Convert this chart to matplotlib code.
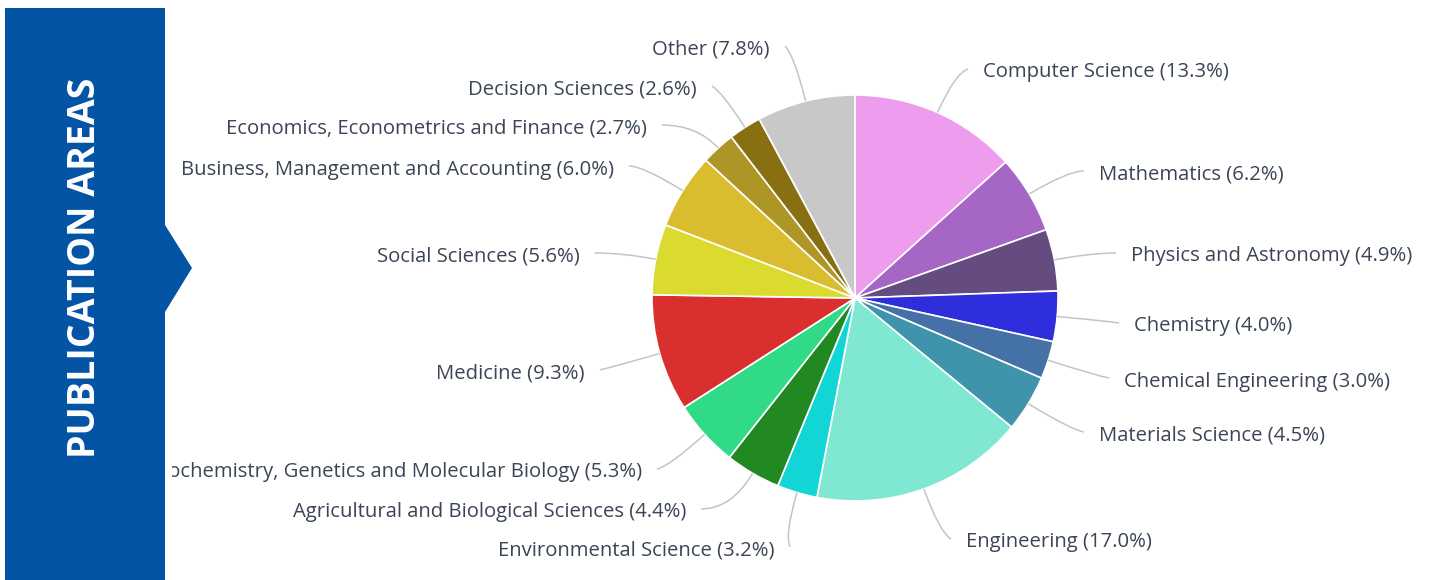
import numpy as np
import matplotlib
matplotlib.use("Agg")
import matplotlib.pyplot as plt
from matplotlib.patches import Polygon
from matplotlib.path import Path
from matplotlib.patches import PathPatch
from matplotlib.transforms import Bbox, TransformedBbox

# --- data ---
areas = ["Computer Science", "Mathematics", "Physics and Astronomy", "Chemistry",
         "Chemical Engineering", "Materials Science", "Engineering",
         "Environmental Science", "Agricultural and Biological Sciences",
         "Biochemistry, Genetics and Molecular Biology", "Medicine",
         "Social Sciences", "Business, Management and Accounting",
         "Economics, Econometrics and Finance", "Decision Sciences", "Other"]
shares = [13.3, 6.2, 4.9, 4.0, 3.0, 4.5, 17.0, 3.2, 4.4, 5.3, 9.3, 5.6, 6.0, 2.7, 2.6, 7.8]
colors = ["#EE9CEE", "#A566C6", "#654C80", "#2F2EDC", "#4472A6", "#3F93AB",
          "#80E8D2", "#12D6D6", "#228822", "#31DA86", "#DA2F2F", "#DADA2F",
          "#DABD2F", "#AD9526", "#887012", "#C8C8C8"]

# label anchor (pixels, y down) and side: +1 text to the right, -1 to the left
label_pos = [(983, 71, 1), (1099, 173, 1), (1131, 255, 1), (1134, 325, 1),
             (1124, 380, 1), (1099, 434, 1), (966, 541, 1), (775, 549, -1),
             (686, 511, -1), (642, 471, -1), (585, 372, -1), (580, 255, -1),
             (614, 168, -1), (647, 127, -1), (697, 88, -1), (770, 48, -1)]

W, H = 1434, 580
cx, cy, R = 855, 298, 203
txt_color = "#3b4556"
line_color = "#c4c4c4"

fig = plt.figure(figsize=(W / 100, H / 100), dpi=100)
ax = fig.add_axes([0, 0, 1, 1])

def Y(y):
    return H - y

ax.pie(shares, colors=colors, startangle=90, counterclock=False,
       center=(cx, Y(cy)), radius=R,
       wedgeprops=dict(edgecolor="white", linewidth=1.2))
ax.set_xlim(0, W)
ax.set_ylim(0, H)
ax.set_aspect("equal")
ax.axis("off")

# labels and curved connectors
cum = np.cumsum([0] + shares)
total = sum(shares)
clip = TransformedBbox(Bbox([[172, 0], [W, H]]), ax.transData)
for i, name in enumerate(areas):
    mid = (cum[i] + shares[i] / 2) / total * 2 * np.pi
    dx, dy = np.sin(mid), -np.cos(mid)  # pixel direction, y down
    x0, y0 = cx + R * dx, cy + R * dy
    lx, ly, side = label_pos[i]
    ex, ey = lx - 15 * side, ly - 2
    # control point: where the radial line meets the label's horizontal
    if abs(dy) > 0.05:
        t = (ey - y0) / dy
    else:
        t = 1e9
    dist = np.hypot(ex - x0, ey - y0)
    t = max(min(t, 0.8 * dist), 5)
    px, py = x0 + t * dx, y0 + t * dy
    path = Path([(x0, Y(y0)), (px, Y(py)), (ex, Y(ey))],
                [Path.MOVETO, Path.CURVE3, Path.CURVE3])
    ax.add_patch(PathPatch(path, fc="none", ec=line_color, lw=1.1))
    t_obj = ax.text(lx, Y(ly + 1.5), f"{name} ({shares[i]:.1f}%)",
                    ha="left" if side > 0 else "right", va="center",
                    fontsize=14.6, family="Open Sans", color=txt_color)
    t_obj.set_clip_box(clip)
    t_obj.set_clip_on(True)

# left banner with arrow
banner = [(5, 8), (165, 8), (165, 225), (192, 268), (165, 312), (165, 580), (5, 580)]
ax.add_patch(Polygon([(x, Y(y)) for x, y in banner], closed=True,
                     fc="#0454A5", ec="none", zorder=5))
ax.text(85, Y(268), "PUBLICATION AREAS", rotation=90, ha="center", va="center",
        fontsize=27, fontweight="bold", family="Open Sans", color="white", zorder=6)

fig.savefig("out.png", dpi=100, facecolor="white")
